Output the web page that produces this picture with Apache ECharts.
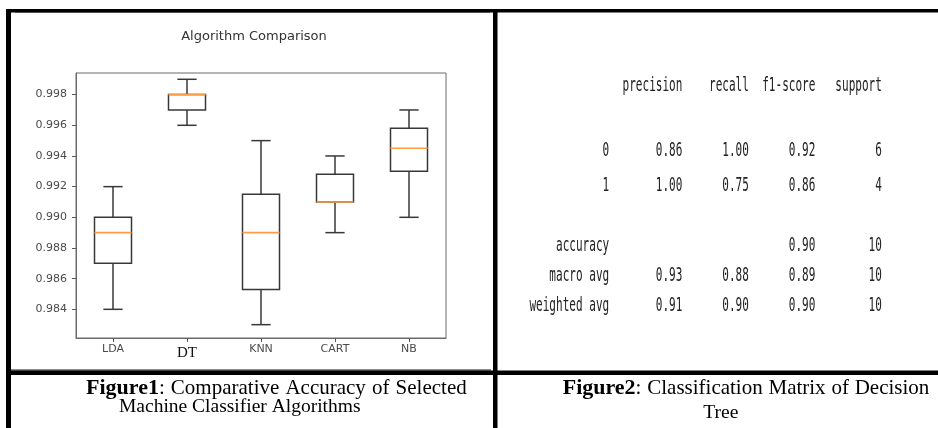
<!DOCTYPE html>
<html>
<head>
<meta charset="utf-8">
<script src="https://cdn.jsdelivr.net/npm/echarts@6/dist/echarts.min.js"></script>
<style>
html,body{margin:0;padding:0;background:#ffffff;}
#chart{width:938px;height:428px;}
</style>
</head>
<body>
<div id="chart"></div>
<script>
// ---------- Figure 1 data (box plot) ----------
const categories  = ['LDA', 'DT', 'KNN', 'CART', 'NB'];
const whiskerLow  = [0.984, 0.996, 0.983, 0.989, 0.990];
const quartile1   = [0.987, 0.997, 0.9853, 0.991, 0.993];
const medians     = [0.989, 0.998, 0.989, 0.991, 0.9945];
const quartile3   = [0.990, 0.998, 0.9915, 0.9928, 0.9958];
const whiskerHigh = [0.992, 0.999, 0.995, 0.994, 0.997];
const outlierCategories = ['CART'];
const outlierValues     = [0.997];
const yTickValues = [0.984, 0.986, 0.988, 0.990, 0.992, 0.994, 0.996, 0.998];
const chartTitle = 'Algorithm Comparison';

// ---------- Figure 2 data (classification report) ----------
const reportColumns   = ['precision', 'recall', 'f1-score', 'support'];
const reportRowLabels = ['0', '1', 'accuracy', 'macro avg', 'weighted avg'];
const precisionValues = [0.86, 1.00, null, 0.93, 0.91];
const recallValues    = [1.00, 0.75, null, 0.88, 0.90];
const f1Values        = [0.92, 0.86, 0.90, 0.89, 0.90];
const supportValues   = [6, 4, 10, 10, 10];

// ---------- Captions ----------
const caption1Bold = 'Figure1';
const caption1Line1 = ['Comparative', 'Accuracy', 'of', 'Selected'];
const caption1Line2 = 'Machine Classifier Algorithms';
const caption2Bold = 'Figure2';
const caption2Line1 = ['Classification', 'Matrix', 'of', 'Decision'];
const caption2Line2 = 'Tree';

// ---------- layout (positions only) ----------
const reportHeaderY = 85.5;
const reportRowY = [150.5, 185.5, 246, 276, 306];
const reportLabelRight = 609.2;
const reportColRight = [682.4, 748.9, 815.4, 881.9];
const monoFont = 'DejaVu Sans Mono';
const monoSize = 19.5;
const monoScaleX = 6.65 / (monoSize * 0.6021);
const serifSize = 19.5;
const serifLine1Size = 21;
const serifBoldSize = 22;

const chart = echarts.init(document.getElementById('chart'), null, {renderer: 'canvas'});

const boxData = categories.map((c, i) => [i, whiskerLow[i], quartile1[i], medians[i], quartile3[i], whiskerHigh[i]]);
const outlierData = outlierCategories.map((c, i) => [c, outlierValues[i]]);

const boxStroke = '#383838';
function renderBox(params, api) {
  const i = api.value(0);
  const pLo = api.coord([i, api.value(1)]);
  const pQ1 = api.coord([i, api.value(2)]);
  const pMd = api.coord([i, api.value(3)]);
  const pQ3 = api.coord([i, api.value(4)]);
  const pHi = api.coord([i, api.value(5)]);
  const band = api.size([1, 0])[0];
  const hb = band * 0.25;   // half box width
  const hc = band * 0.13;   // half cap width
  const cx = pMd[0];
  const st = {stroke: boxStroke, lineWidth: 1.5, fill: null};
  return {
    type: 'group',
    children: [
      {type: 'line', shape: {x1: cx, y1: pQ1[1], x2: cx, y2: pLo[1]}, style: st},
      {type: 'line', shape: {x1: cx, y1: pQ3[1], x2: cx, y2: pHi[1]}, style: st},
      {type: 'line', shape: {x1: cx - hc, y1: pLo[1], x2: cx + hc, y2: pLo[1]}, style: st},
      {type: 'line', shape: {x1: cx - hc, y1: pHi[1], x2: cx + hc, y2: pHi[1]}, style: st},
      {type: 'rect', shape: {x: cx - hb, y: pQ3[1], width: 2 * hb, height: pQ1[1] - pQ3[1]},
        style: {stroke: boxStroke, lineWidth: 1.5, fill: '#ffffff'}},
      {type: 'line', shape: {x1: cx - hb, y1: pMd[1], x2: cx + hb, y2: pMd[1]},
        style: {stroke: '#ff9d45', lineWidth: 1.6}}
    ]
  };
}

// measure text for caption lines
const measureCtx = document.createElement('canvas').getContext('2d');
function textWidth(t, bold, size) {
  measureCtx.font = (bold ? 'bold ' : '') + size + 'px "Liberation Serif"';
  return measureCtx.measureText(t).width;
}
function justifiedCaption(boldWord, words, left, right, y) {
  const firstW = textWidth(boldWord, true, serifBoldSize) + textWidth(':', false, serifLine1Size);
  const widths = words.map(w => textWidth(w, false, serifLine1Size));
  const total = firstW + widths.reduce((a, b) => a + b, 0);
  const gap = (right - left - total) / words.length;
  const els = [{
    type: 'text', x: left, y: y,
    style: {text: '{b|' + boldWord + '}:', rich: {b: {fontWeight: 'bold', fontFamily: 'Liberation Serif', fontSize: serifBoldSize, fill: '#000'}},
      fontFamily: 'Liberation Serif', fontSize: serifLine1Size, fill: '#000', align: 'left', verticalAlign: 'middle'}
  }];
  let x = left + firstW + gap;
  words.forEach((w, k) => {
    els.push({type: 'text', x: x, y: y,
      style: {text: w, fontFamily: 'Liberation Serif', fontSize: serifLine1Size, fill: '#000', align: 'left', verticalAlign: 'middle'}});
    x += widths[k] + gap;
  });
  return els;
}
function plainCaption(t, left, y) {
  return {type: 'text', x: left, y: y,
    style: {text: t, fontFamily: 'Liberation Serif', fontSize: serifSize, fill: '#000', align: 'left', verticalAlign: 'middle'}};
}

function monoText(t, xRight, y) {
  return {type: 'text', x: xRight, y: y, scaleX: monoScaleX,
    style: {text: t, fontFamily: monoFont, fontSize: monoSize, fill: '#222', align: 'right', verticalAlign: 'middle'}};
}

const reportEls = [];
reportColumns.forEach((h, j) => reportEls.push(monoText(h, reportColRight[j], reportHeaderY)));
reportRowLabels.forEach((lab, r) => {
  const y = reportRowY[r];
  reportEls.push(monoText(lab, reportLabelRight, y));
  const vals = [precisionValues[r], recallValues[r], f1Values[r]];
  vals.forEach((v, j) => { if (v !== null) reportEls.push(monoText(v.toFixed(2), reportColRight[j], y)); });
  reportEls.push(monoText(String(supportValues[r]), reportColRight[3], y));
});

const frameEls = [
  {type: 'rect', shape: {x: 15, y: 12, width: 475, height: 1}, style: {fill: '#9a9a9a'}, z: 99},
  {type: 'rect', shape: {x: 11, y: 369, width: 480, height: 2}, style: {fill: '#8a8a8a'}, z: 99},
  {type: 'rect', shape: {x: 6, y: 9, width: 932, height: 3.5}, style: {fill: '#000'}, z: 100},
  {type: 'rect', shape: {x: 6, y: 9, width: 5, height: 419}, style: {fill: '#000'}, z: 100},
  {type: 'rect', shape: {x: 493, y: 9, width: 4.5, height: 419}, style: {fill: '#000'}, z: 100},
  {type: 'rect', shape: {x: 6, y: 370.5, width: 932, height: 4.5}, style: {fill: '#000'}, z: 100}
];

const titleEl = {type: 'text', x: 254, y: 36.5,
  style: {text: chartTitle, fontFamily: 'DejaVu Sans', fontSize: 13, fill: '#333', align: 'center', verticalAlign: 'middle'}};

const option = {
  animation: false,
  backgroundColor: '#ffffff',
  grid: {left: 76, top: 73, width: 370, height: 265, show: true, borderColor: '#6a6a6a', borderWidth: 1, backgroundColor: 'transparent'},
  xAxis: {
    type: 'category', data: categories, boundaryGap: true,
    axisLine: {show: true, lineStyle: {color: '#6a6a6a', width: 1}},
    axisTick: {show: true, alignWithLabel: true, length: 4, lineStyle: {color: '#555'}},
    axisLabel: {
      margin: 6, color: '#4a4a4a', fontFamily: 'DejaVu Sans', fontSize: 11,
      formatter: v => v === 'DT' ? '{s|DT}' : v,
      rich: {s: {fontFamily: 'Liberation Serif', fontSize: 15, color: '#111', padding: [2, 0, 0, 0]}}
    },
    splitLine: {show: false}
  },
  yAxis: {
    type: 'value', min: 0.98213, max: 0.99941,
    axisLine: {show: true, lineStyle: {color: '#6a6a6a', width: 1}},
    axisTick: {show: true, length: 4, lineStyle: {color: '#555'}, customValues: yTickValues},
    axisLabel: {customValues: yTickValues, formatter: v => Number(v).toFixed(3), margin: 9,
      color: '#4a4a4a', fontFamily: 'DejaVu Sans', fontSize: 11},
    splitLine: {show: false}
  },
  series: [
    {type: 'custom', name: 'box', data: boxData, renderItem: renderBox,
      encode: {x: 0, y: [1, 2, 3, 4, 5]}, z: 3},
    {type: 'scatter', name: 'outliers', data: outlierData, symbol: 'emptyCircle', symbolSize: 8,
      itemStyle: {color: '#ffffff', borderColor: boxStroke, borderWidth: 1.4}, z: 4}
  ],
  graphic: {elements: [].concat(
    [titleEl],
    reportEls,
    justifiedCaption(caption1Bold, caption1Line1, 86, 466.7, 388),
    [plainCaption(caption1Line2, 119, 406.7)],
    justifiedCaption(caption2Bold, caption2Line1, 562.7, 929.3, 388.3),
    [plainCaption(caption2Line2, 703.3, 412.5)],
    frameEls
  )}
};
chart.setOption(option);
</script>
</body>
</html>
